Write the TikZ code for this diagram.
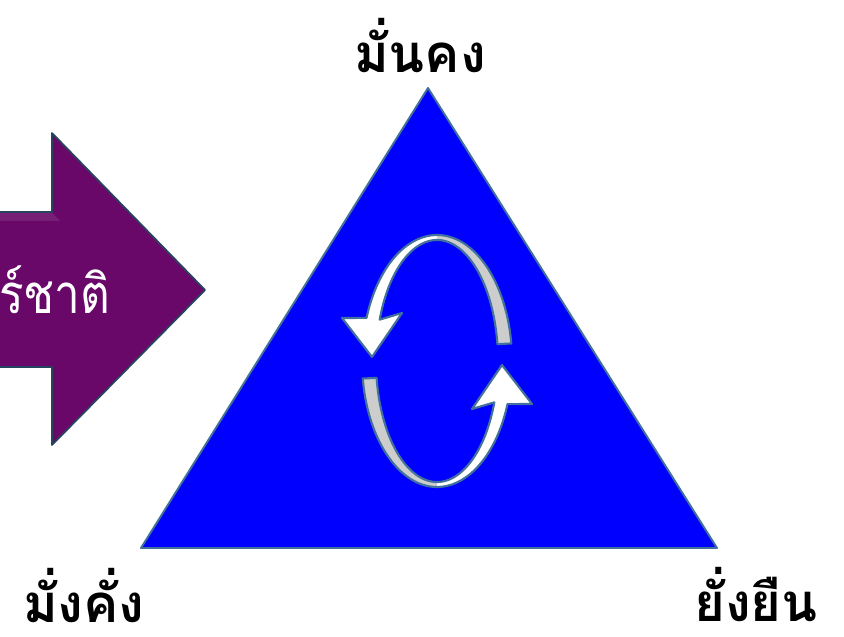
\documentclass[tikz,border=0pt]{standalone}
\usepackage{fontspec}
\newfontfamily\thaifont[Script=Thai]{Loma}
\usetikzlibrary{positioning}
\definecolor{triblue}{RGB}{0,0,255}
\definecolor{edgeblue}{RGB}{65,113,156}
\definecolor{arrowpurple}{RGB}{106,8,106}
\definecolor{ribbongray}{RGB}{205,205,205}

\begin{document}
\begin{tikzpicture}[x=0.02cm,y=0.02cm,line join=round,
  corner/.style={font=\thaifont\bfseries\fontsize{30}{36}\selectfont,text=black,inner sep=0pt},
  ribbon/.style={draw=edgeblue,line width=1.2pt}]
\useasboundingbox (0,0) rectangle (844,636);
\clip (0,0) rectangle (844,636);
% big arrow, cut by the left border
\draw[fill=arrowpurple,draw=edgeblue!60!black,line width=1pt] (-20,424) -- (52,424) -- (52,503) -- (205,346) -- (52,191) -- (52,269) -- (-20,269) -- cycle;
\fill[arrowpurple!70!white,opacity=0.3] (-20,423) -- (52,423) -- (60,415) -- (-20,415) -- cycle;
\node[font=\thaifont\fontsize{31}{36}\selectfont,text=white,inner sep=0pt,anchor=base west,xscale=0.84] (goal) at (-1,323) {ร์ชาติ};
% triangle
\coordinate (apex) at (428,548);
\coordinate (left) at (141,88);
\coordinate (right) at (717,88);
\draw[fill=triblue,draw=edgeblue,line width=1.1pt] (apex) -- (left) -- (right) -- cycle;
\node[corner,anchor=base] (stable) at (420,563) {มั่นคง};
\node[corner,anchor=base] (wealthy) at (84,14) {มั่งคั่ง};
\node[corner,anchor=base] (lasting) at (756,15) {ยั่งยืน};
% turning arrows
\foreach \r in {0,180}{
\begin{scope}[shift={(437,275)},rotate=\r]
\fill[ribbongray] (8:75 and 126) arc[start angle=8,end angle=90,x radius=75,y radius=126]
  -- (90:61 and 121) arc[start angle=90,end angle=8,x radius=61,y radius=121] -- cycle;
\fill[white] (90:75 and 126) arc[start angle=90,end angle=160,x radius=75,y radius=126]
  -- (-95,43) -- (-65,4) -- (-35,48)
  -- (160:61 and 121) arc[start angle=160,end angle=90,x radius=61,y radius=121] -- cycle;
\draw[ribbon] (8:75 and 126) arc[start angle=8,end angle=160,x radius=75,y radius=126]
  -- (-95,43) -- (-65,4) -- (-35,48)
  -- (160:61 and 121) arc[start angle=160,end angle=8,x radius=61,y radius=121] -- cycle;
\end{scope}
}
\end{tikzpicture}
\end{document}
